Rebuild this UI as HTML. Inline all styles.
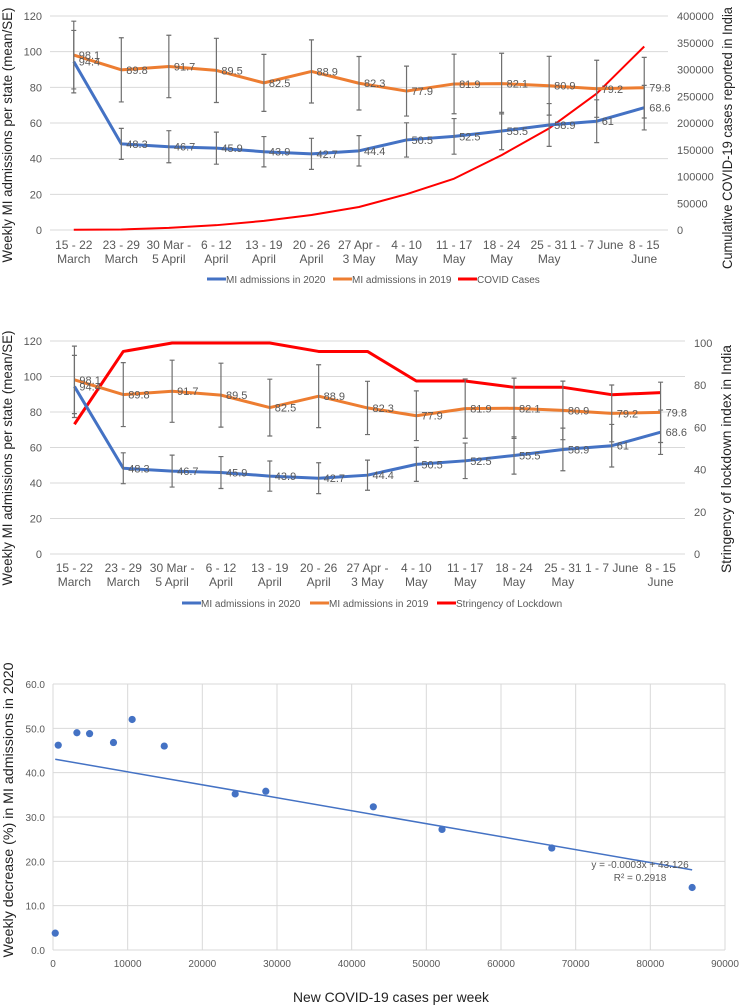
<!DOCTYPE html>
<html><head><meta charset="utf-8"><style>
body{margin:0;background:#fff;width:740px;height:1006px;overflow:hidden;font-family:"Liberation Sans",sans-serif}
svg{position:absolute;left:0;top:0}
text{font-family:"Liberation Sans",sans-serif}
</style></head><body>
<svg id="s" width="740" height="1006"></svg>
<script>
const weeks=[["15 - 22","March"],["23 - 29","March"],["30 Mar -","5 April"],["6 - 12","April"],["13 - 19","April"],["20 - 26","April"],["27 Apr -","3 May"],["4 - 10","May"],["11 - 17","May"],["18 - 24","May"],["25 - 31","May"],["1 - 7 June",""],["8 - 15","June"]];
const mi2020=[94.4,48.3,46.7,45.9,43.9,42.7,44.4,50.5,52.5,55.5,58.9,61,68.6];
const mi2019=[98.1,89.8,91.7,89.5,82.5,88.9,82.3,77.9,81.9,82.1,80.9,79.2,79.8];
const err2020=[17.5,8.7,9,9,8.5,8.7,8.5,9.6,10,10.5,12,12,12.5];
const err2019=[19,18,17.5,18,16,17.7,15,14,16.7,17,16.5,16,17];
const covidCases=[500,1000,4000,9000,17000,28000,43000,67000,96000,140000,190000,255000,343000];
const stringency=[61.5,96,100,100,100,96,96,82,82,79,79,75.5,76.5];
const leftTicks=[0,20,40,60,80,100,120];
const covidTicks=[0,50000,100000,150000,200000,250000,300000,350000,400000];
const stringTicks=[0,20,40,60,80,100];
const scX=[300,700,3200,4900,8100,10600,14900,24400,28500,42900,52100,66800,85600];
const scY=[3.8,46.2,49,48.8,46.8,52,46,35.2,35.8,32.3,27.2,23,14.1];
const scXTicks=[0,10000,20000,30000,40000,50000,60000,70000,80000,90000];
const scYTicks=[0,10,20,30,40,50,60];

const S=document.getElementById('s');const NS='http://www.w3.org/2000/svg';
function mk(t,a,txt){const e=document.createElementNS(NS,t);for(const k in a)e.setAttribute(k,a[k]);if(txt!==undefined)e.textContent=txt;S.appendChild(e);return e;}

function lineChart(c){
  const band=(c.x1-c.x0)/weeks.length;
  const X=i=>c.x0+band*(i+0.5);
  const Y=v=>c.yb-(v/120)*(c.yb-c.yt);
  const R=v=>c.yb-(v/c.rmax)*(c.yb-c.rt);
  leftTicks.forEach(t=>{
    const g=mk('line',{x1:c.x0,x2:c.x1,y1:Y(t),y2:Y(t),stroke:'#d9d9d9','stroke-width':1});
    
    
    const l=mk('text',{x:c.x0-8,y:Y(t)+4,'text-anchor':'end','font-size':11,fill:'#595959'},t);
    
    
  });
  c.rticks.forEach(t=>{
    const l=mk('text',{x:c.x1+9,y:R(t)+4,'font-size':11,fill:'#595959'},t);
    
    
  });
  weeks.forEach((w,i)=>{
    const a=mk('text',{x:X(i),y:c.lab1,'text-anchor':'middle','font-size':12,fill:'#595959'},w[0]);
    
    
    const b=mk('text',{x:X(i),y:c.lab1+14,'text-anchor':'middle','font-size':12,fill:'#595959'},w[1]);
    
    
  });
  const rp=c.red.map((v,i)=>X(i)+','+R(v)).join(' ');
  const red=mk('polyline',{points:rp,fill:'none',stroke:'#ff0000','stroke-width':c.redW,'stroke-linejoin':'round'});
  
  
  [[mi2019,err2019,'#ed7d31','line-mi-2019'],[mi2020,err2020,'#4472c4','line-mi-2020']].forEach(([d,e,col,nm])=>{
    const p=mk('polyline',{points:d.map((v,i)=>X(i)+','+Y(v)).join(' '),fill:'none',stroke:col,'stroke-width':3,'stroke-linejoin':'round'});
    
    
    d.forEach((v,i)=>{
      const eb=mk('path',{d:`M${X(i)},${Y(v+e[i])}V${Y(v-e[i])}M${X(i)-2.5},${Y(v+e[i])}h5M${X(i)-2.5},${Y(v-e[i])}h5`,stroke:'#6f6f6f','stroke-width':1.2,fill:'none'});
      
      
    });
  });
  [mi2019,mi2020].forEach(d=>d.forEach((v,i)=>{
    const t=mk('text',{x:X(i)+5,y:Y(v)+4,'font-size':11,fill:'#595959'},v);
    
    
  }));
  const lt=mk('text',{transform:`translate(${c.ltx},${c.lty}) rotate(-90)`,'text-anchor':'middle','font-size':14,fill:'#222',textLength:c.llen,lengthAdjust:'spacingAndGlyphs'},'Weekly MI admissions per state (mean/SE)');
  
  
  const rt=mk('text',{transform:`translate(${c.rtx},${c.rty}) rotate(-90)`,'text-anchor':'middle','font-size':14,fill:'#222',textLength:c.rlen,lengthAdjust:'spacingAndGlyphs'},c.rtitle);
  
  
  c.legend.forEach(([x,col,txt])=>{
    const l=mk('line',{x1:x,x2:x+19,y1:c.legY-4,y2:c.legY-4,stroke:col,'stroke-width':3});
    
    
    const t=mk('text',{x:x+19,y:c.legY,'font-size':10,fill:'#595959'},txt);
    
    
  });
}
lineChart({x0:50,x1:668,yt:16,yb:230,rt:16,rmax:400000,rticks:covidTicks,red:covidCases,redW:2,redName:'line-covid-cases',lab1:249,ltx:12,lty:135,llen:255,rtx:732,rty:138,rlen:262,rtitle:'Cumulative COVID-19 cases reported in India',legY:283,
  legend:[[207,'#4472c4','MI admissions in 2020'],[333,'#ed7d31','MI admissions in 2019'],[458,'#ff0000','COVID Cases']]});
lineChart({x0:50,x1:685,yt:341,yb:554,rt:343,rmax:100,rticks:stringTicks,red:stringency,redW:3,redName:'line-stringency',lab1:572,ltx:12,lty:458,llen:255,rtx:731,rty:459,rlen:228,rtitle:'Stringency of lockdown index in India',legY:607,
  legend:[[182,'#4472c4','MI admissions in 2020'],[310,'#ed7d31','MI admissions in 2019'],[437,'#ff0000','Stringency of Lockdown']]});

const sx0=53,sx1=725,sy0=950,sy1=684;
const SX=v=>sx0+v/90000*(sx1-sx0);
const SY=v=>sy0-v/60*(sy0-sy1);
scYTicks.forEach(t=>{
  const g=mk('line',{x1:sx0,x2:sx1,y1:SY(t),y2:SY(t),stroke:'#d9d9d9','stroke-width':1});
  
  
  const l=mk('text',{x:45,y:SY(t)+4,'text-anchor':'end','font-size':10,fill:'#595959'},t.toFixed(1));
  
  
});
scXTicks.forEach(t=>{
  const g=mk('line',{x1:SX(t),x2:SX(t),y1:sy1,y2:sy0,stroke:'#d9d9d9','stroke-width':1});
  
  
  const l=mk('text',{x:SX(t),y:967,'text-anchor':'middle','font-size':10,fill:'#595959'},t);
  
  
});
let n=scX.length,mx=0,my=0;scX.forEach((v,i)=>{mx+=v/n;my+=scY[i]/n;});
let sxy=0,sxx=0;scX.forEach((v,i)=>{sxy+=(v-mx)*(scY[i]-my);sxx+=(v-mx)*(v-mx);});
const slope=sxy/sxx,icpt=my-slope*mx;
const xa=Math.min(...scX),xb=Math.max(...scX);
const tl=mk('line',{x1:SX(xa),y1:SY(icpt+slope*xa),x2:SX(xb),y2:SY(icpt+slope*xb),stroke:'#4472c4','stroke-width':1.5});


scX.forEach((v,i)=>{
  const d=mk('circle',{cx:SX(v),cy:SY(scY[i]),r:3.6,fill:'#4472c4'});
  
  
});
const e1=mk('text',{x:640,y:868,'text-anchor':'middle','font-size':10,fill:'#595959'},'y = -0.0003x + 43.126');


const e2=mk('text',{x:640,y:881,'text-anchor':'middle','font-size':10,fill:'#595959'},'R² = 0.2918');


const yt=mk('text',{transform:'translate(13,810) rotate(-90)','text-anchor':'middle','font-size':14,fill:'#222',textLength:295,lengthAdjust:'spacingAndGlyphs'},'Weekly decrease (%) in MI admissions in 2020');


const xt=mk('text',{x:391,y:1002,'text-anchor':'middle','font-size':14,fill:'#222',textLength:196,lengthAdjust:'spacingAndGlyphs'},'New COVID-19 cases per week');


</script>
</body></html>
